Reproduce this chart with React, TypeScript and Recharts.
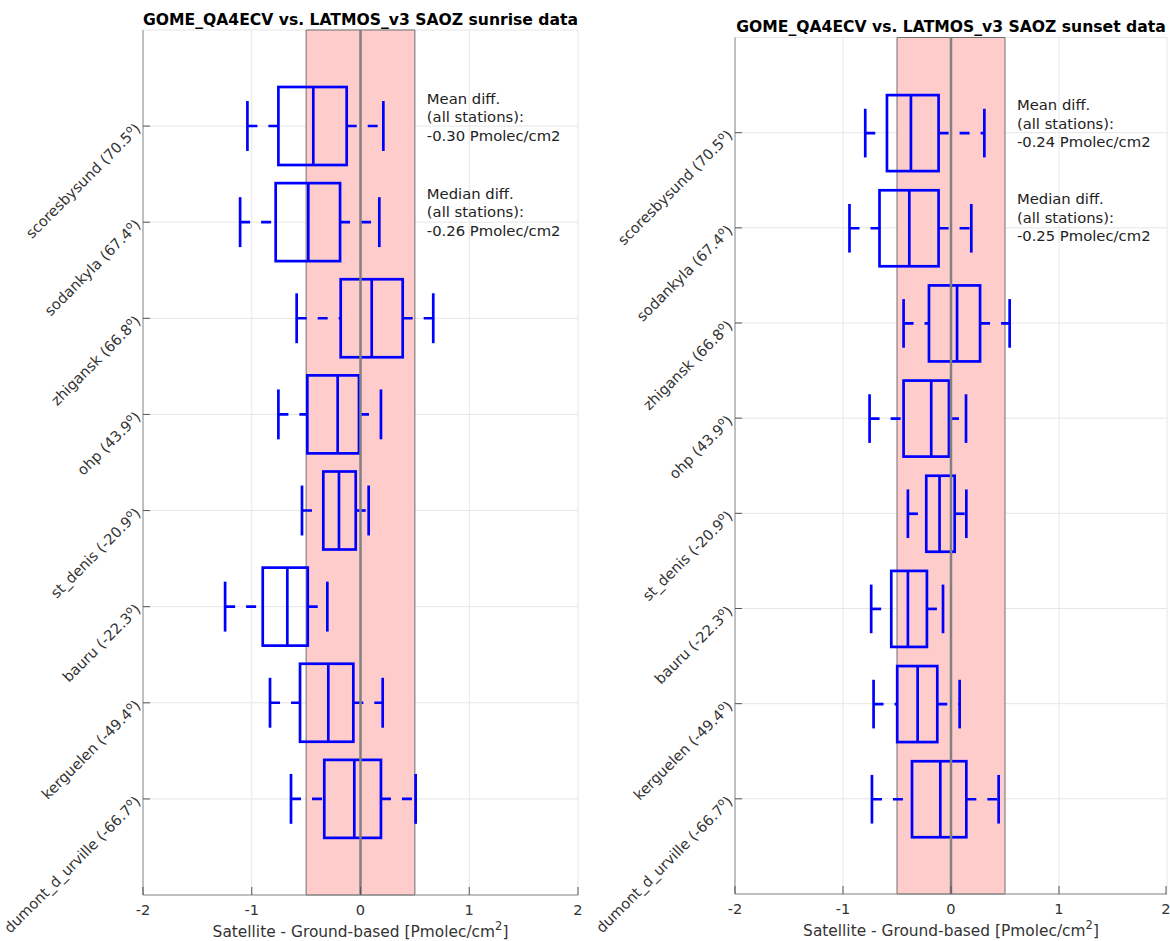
import React from 'react';
import {
  ComposedChart,
  Bar,
  XAxis,
  YAxis,
  CartesianGrid,
  ReferenceArea,
  ReferenceLine,
  ReferenceDot,
} from 'recharts';

const stations = ['scoresbysund', 'sodankyla', 'zhigansk', 'ohp', 'st_denis', 'bauru', 'kerguelen', 'dumont_d_urville'];
const latitudes = ['70.5', '67.4', '66.8', '43.9', '-20.9', '-22.3', '-49.4', '-66.7'];
const xTicks = [-2, -1, 0, 1, 2];

// [lower whisker, q1, median, q3, upper whisker] per station
const sunriseStats = [
  [-1.04, -0.755, -0.434, -0.127, 0.21],
  [-1.107, -0.78, -0.48, -0.188, 0.173],
  [-0.587, -0.182, 0.103, 0.388, 0.669],
  [-0.755, -0.489, -0.21, -0.014, 0.188],
  [-0.538, -0.342, -0.198, -0.044, 0.075],
  [-1.245, -0.899, -0.673, -0.485, -0.305],
  [-0.832, -0.556, -0.296, -0.066, 0.204],
  [-0.639, -0.333, -0.057, 0.188, 0.507],
];
const sunsetStats = [
  [-0.794, -0.593, -0.371, -0.115, 0.309],
  [-0.94, -0.662, -0.386, -0.115, 0.188],
  [-0.439, -0.204, 0.056, 0.269, 0.543],
  [-0.754, -0.439, -0.183, -0.019, 0.139],
  [-0.399, -0.229, -0.106, 0.034, 0.142],
  [-0.739, -0.553, -0.399, -0.223, -0.074],
  [-0.717, -0.498, -0.309, -0.127, 0.08],
  [-0.732, -0.361, -0.099, 0.142, 0.441],
];

const sunriseMean = '-0.30';
const sunriseMedian = '-0.26';
const sunsetMean = '-0.24';
const sunsetMedian = '-0.25';

const FONT = '"DejaVu Sans", sans-serif';
const BLUE = '#0000ff';
const LW = 2.7;

const toRows = (stats: number[][]) =>
  stations.map((s, i) => ({
    station: s,
    lat: latitudes[i],
    lo: stats[i][0],
    q1: stats[i][1],
    med: stats[i][2],
    q3: stats[i][3],
    hi: stats[i][4],
  }));

function BoxShape(props: any) {
  const { x, y, width, height, payload } = props;
  const { lo, q1, med, q3, hi } = payload;
  const k = width / (hi - lo);
  const px = (v: number) => x + (v - lo) * k;
  const cy = y + height / 2;
  const cap = height * 0.32;
  const dash = '10 11';
  return (
    <g>
      <line x1={px(lo)} y1={cy} x2={px(q1)} y2={cy} stroke={BLUE} strokeWidth={LW} strokeDasharray={dash} />
      <line x1={px(q3)} y1={cy} x2={px(hi)} y2={cy} stroke={BLUE} strokeWidth={LW} strokeDasharray={dash} />
      <line x1={px(lo)} y1={cy - cap} x2={px(lo)} y2={cy + cap} stroke={BLUE} strokeWidth={LW} />
      <line x1={px(hi)} y1={cy - cap} x2={px(hi)} y2={cy + cap} stroke={BLUE} strokeWidth={LW} />
      <rect x={px(q1)} y={y} width={px(q3) - px(q1)} height={height} fill="none" stroke={BLUE} strokeWidth={LW} />
      <line x1={px(med)} y1={y} x2={px(med)} y2={y + height} stroke={BLUE} strokeWidth={LW} />
    </g>
  );
}

function StationTick(props: any) {
  const { x, y, payload } = props;
  const lat = latitudes[stations.indexOf(payload.value)];
  return (
    <g>
      <line x1={x + 5} y1={y} x2={x + 12} y2={y} stroke="#555" strokeWidth={1} />
      <text
        x={x}
        y={y}
        dy="0.35em"
        transform={`rotate(-45 ${x} ${y})`}
        textAnchor="end"
        fontSize={14.6}
        fill="#333"
        fontFamily={FONT}
      >
        {`${payload.value} (${lat}`}
        <tspan dy={-6} fontSize={10.5}>o</tspan>
        <tspan dy={6}>)</tspan>
      </text>
    </g>
  );
}

function ValueTick(props: any) {
  const { x, y, payload } = props;
  return (
    <g>
      <line x1={x} y1={y - 10} x2={x} y2={y - 18} stroke="#555" strokeWidth={1} />
      <text x={x} y={y} dy="0.71em" textAnchor="middle" fontSize={14.6} fill="#333" fontFamily={FONT}>
        {payload.value}
      </text>
    </g>
  );
}

function AxisTitle(props: any) {
  const vb = props.viewBox || {};
  return (
    <text x={vb.x + vb.width / 2} y={vb.y + 42} textAnchor="middle" fontSize={15.4} fill="#333" fontFamily={FONT}>
      Satellite - Ground-based [Pmolec/cm
      <tspan dy={-7} fontSize={11.5}>2</tspan>
      <tspan dy={7}>]</tspan>
    </text>
  );
}

function Note({ cx, cy, lines }: { cx: number; cy: number; lines: string[] }) {
  return (
    <text x={cx} y={cy - 22.5} fontSize={14.8} fill="#222" fontFamily={FONT}>
      {lines.map((l, i) => (
        <tspan key={i} x={cx} dy={i === 0 ? 0 : 18.5}>
          {l}
        </tspan>
      ))}
    </text>
  );
}

interface PanelProps {
  title: string;
  stats: number[][];
  mean: string;
  median: string;
  left: number;
  top: number;
  rightMargin: number;
  yWidth: number;
  xHeight: number;
  pad: number;
  barSize: number;
  titleY: number;
}

function Panel({ title, stats, mean, median, left, top, rightMargin, yWidth, xHeight, pad, barSize, titleY }: PanelProps) {
  const W = 585;
  const H = 941;
  const rows = toRows(stats);
  const plotW = W - yWidth - rightMargin;
  return (
    <div style={{ position: 'absolute', left, top: 0, width: W, height: H }}>
      <div
        style={{
          position: 'absolute',
          left: yWidth - 20,
          width: plotW + 40,
          top: titleY - 10,
          textAlign: 'center',
          fontFamily: FONT,
          fontWeight: 'bold',
          fontSize: 15.6,
          lineHeight: '19px',
          color: '#000',
          whiteSpace: 'nowrap',
        }}
      >
        {title}
      </div>
      <ComposedChart
        width={W}
        height={H}
        data={rows}
        layout="vertical"
        margin={{ top, right: rightMargin, bottom: 0, left: 0 }}
        style={{ fontFamily: FONT }}
      >
        <CartesianGrid stroke="#e6e6e6" strokeWidth={1} />
        <XAxis
          type="number"
          dataKey="med"
          domain={[-2, 2]}
          ticks={xTicks}
          allowDataOverflow
          height={xHeight}
          tickLine={false}
          tickSize={0}
          tickMargin={10}
          tick={<ValueTick />}
          axisLine={{ stroke: '#8c8c8c', strokeWidth: 1 }}
          label={<AxisTitle />}
        />
        <YAxis
          type="category"
          dataKey="station"
          width={yWidth}
          padding={{ top: pad, bottom: pad }}
          interval={0}
          tickLine={false}
          tickSize={0}
          tickMargin={5}
          tick={<StationTick />}
          axisLine={{ stroke: '#8c8c8c', strokeWidth: 1 }}
        />
        <YAxis yAxisId="full" type="number" domain={[0, 1]} hide />
        <ReferenceArea
          yAxisId="full"
          x1={-0.5}
          x2={0.5}
          fill="#ffcccc"
          fillOpacity={1}
          stroke="#6e6e6e"
          strokeWidth={1}
        />
        <ReferenceLine yAxisId="full" x={0} stroke="#808080" strokeWidth={2.5} />
        <Bar
          dataKey={(d: any) => [d.lo, d.hi]}
          barSize={barSize}
          isAnimationActive={false}
          shape={<BoxShape />}
        />
        <ReferenceDot
          x={0.61}
          y={stations[0]}
          r={0}
          shape={(p: any) => (
            <Note cx={p.cx} cy={p.cy} lines={['Mean diff.', '(all stations):', `${mean} Pmolec/cm2`]} />
          )}
        />
        <ReferenceDot
          x={0.61}
          y={stations[1]}
          r={0}
          shape={(p: any) => (
            <Note cx={p.cx} cy={p.cy - 1} lines={['Median diff.', '(all stations):', `${median} Pmolec/cm2`]} />
          )}
        />
      </ComposedChart>
    </div>
  );
}

export default function App() {
  return (
    <div style={{ position: 'absolute', left: 0, top: 0, width: 1170, height: 941, background: '#fff', overflow: 'hidden' }}>
      <Panel
        title="GOME_QA4ECV vs. LATMOS_v3 SAOZ sunrise data"
        stats={sunriseStats}
        mean={sunriseMean}
        median={sunriseMedian}
        left={0}
        top={30}
        rightMargin={7}
        yWidth={143}
        xHeight={46}
        pad={48}
        barSize={78}
        titleY={21}
      />
      <Panel
        title="GOME_QA4ECV vs. LATMOS_v3 SAOZ sunset data"
        stats={sunsetStats}
        mean={sunsetMean}
        median={sunsetMedian}
        left={585}
        top={37.5}
        rightMargin={3}
        yWidth={150}
        xHeight={47}
        pad={47.6}
        barSize={76}
        titleY={28}
      />
    </div>
  );
}
